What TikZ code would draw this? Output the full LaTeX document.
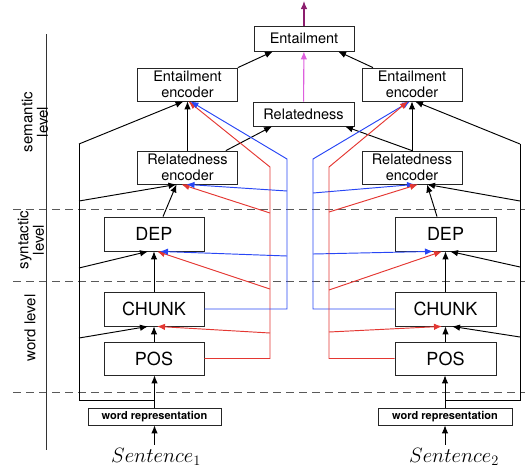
\documentclass[tikz,border=0pt]{standalone}
\usepackage{fontspec}
\setsansfont{TeX Gyre Heros}
\usetikzlibrary{arrows.meta}
\definecolor{redline}{RGB}{228,55,50}
\definecolor{blueline}{RGB}{40,70,245}
\definecolor{pinkline}{RGB}{222,95,222}
\definecolor{purpleline}{RGB}{140,30,110}
\tikzset{
  task/.style={draw=black!85, line width=.8pt, inner sep=0pt, minimum width=100pt, minimum height=34pt, font=\sffamily\fontsize{18}{20}\selectfont},
  enc/.style={draw=black!85, line width=.8pt, inner sep=0pt, minimum width=100pt, minimum height=33pt, align=center, font=\sffamily\fontsize{14.5}{16.5}\selectfont},
  wrep/.style={draw=black!85, line width=.8pt, inner sep=0pt, minimum width=133pt, minimum height=17pt, font=\sffamily\bfseries\fontsize{11}{12}\selectfont},
  lvl/.style={rotate=90, align=center, font=\sffamily\fontsize{15}{15.5}\selectfont},
}
\begin{document}
\begin{tikzpicture}[x=1pt,y=-1pt,>={Latex[length=8pt,width=6.5pt]},line width=.95pt]
\useasboundingbox (0,0) rectangle (525,469);
\foreach \y in {209,281,392}
    \draw[dash pattern=on 8pt off 5pt,black!65] (13,\y) -- (525,\y);
    \draw[black!80] (46,34) -- (46,450);
    \node[lvl] (semL) at (35,122) {semantic\\level};
    \node[lvl] (synL) at (31,240) {syntactic\\level};
    \node[lvl] (wordL) at (30,328) {word level};

    \node[enc,minimum height=25pt] (ent) at (304,38.5) {Entailment};
    \node[enc,minimum height=24pt,minimum width=101pt] (rel) at (303.5,114) {Relatedness};
    \node[enc] (entencL) at (187.5,84.5) {Entailment\\encoder};
    \node[enc] (entencR) at (412,84.5) {Entailment\\encoder};
    \node[enc] (relencL) at (187.5,167.5) {Relatedness\\encoder};
    \node[enc] (relencR) at (412,167.5) {Relatedness\\encoder};
    \node[task] (depL) at (154,234) {DEP};
    \node[task,minimum width=101pt] (depR) at (445.5,234) {DEP};
    \node[task] (chunkL) at (154,309) {CHUNK};
    \node[task,minimum width=101pt] (chunkR) at (445.5,309) {CHUNK};
    \node[task,minimum height=33pt] (posL) at (154,358.5) {POS};
    \node[task,minimum height=33pt,minimum width=101pt] (posR) at (445.5,358.5) {POS};
    \node[wrep] (wrL) at (154.5,416.5) {word representation};
    \node[wrep,minimum width=134pt] (wrR) at (445,416.5) {word representation};
    \node[font=\fontsize{19.5}{21}\selectfont] (senL) at (156,457) {$Sentence_1$};
    \node[font=\fontsize{19.5}{21}\selectfont] (senR) at (454,457) {$Sentence_2$};

\draw[->] (senL.north -| wrL.south) -- (wrL.south);
\draw[->] (senR.north -| wrR.south) -- (wrR.south);
\draw[->] (wrL.north) -- (wrL.north |- posL.south);
\draw[->] (wrR.north) -- (wrR.north |- posR.south);
\draw[->] (posL) -- (chunkL);
\draw[->] (chunkL) -- (depL);
\draw[->] (posR) -- (chunkR);
\draw[->] (chunkR) -- (depR);
\draw[->] ([xshift=9pt]depL.north) -- ([xshift=-11pt]relencL.south);
\draw[->] ([xshift=-8.5pt]depR.north) -- ([xshift=15pt]relencR.south);
\draw[->] (relencL) -- (entencL);
\draw[->] (relencR) -- (entencR);
\draw[->] ([xshift=-12pt]relencL.north east) -- ([xshift=-31.5pt]rel.south);
\draw[->] (relencR.north) -- ([xshift=41.5pt]rel.south);
\draw[->] (entencL.north east) -- ([xshift=-31pt]ent.south);
\draw[->] ([xshift=-39pt]entencR.north) -- ([xshift=34pt]ent.south);
\draw[->,pinkline,line width=1.1pt] (rel) -- (ent);
\draw[->,purpleline,line width=1.1pt] (ent.north) -- (ent.north |- 0,1);

\draw (79,144) -- (79,400) -- (wrL.north |- 0,400);
\foreach \y/\n/\s in {144/entencL/-4,201/relencL/-11,268/depL/-6,338/chunkL/-6}
    \draw[->] (79,\y) -- ([xshift=\s pt]\n.south);
\draw (520,144) -- (520,400) -- (wrR.north |- 0,400);
\foreach \y/\n/\s in {144/entencR/3,201/relencR/15,267/depR/4.5,337/chunkR/6.5}
    \draw[->] (520,\y) -- ([xshift=\s pt]\n.south);

\draw[->,redline] (posL.east) -- (posL.east -| 270,0) -- (270,167) -- ([xshift=1pt]entencL.south);
\foreach \y/\n/\s in {213/relencL/-6,289/depL/3,333/chunkL/3}
    \draw[->,redline] (270,\y) -- ([xshift=\s pt]\n.south);
\draw[->,blueline] (chunkL.east) -- (chunkL.east -| 287,0) -- (287,159) -- ([xshift=3pt]entencL.south);
\foreach \y/\n/\s in {191/relencL/-1,256/depL/6}
    \draw[->,blueline] (287,\y) -- ([xshift=\s pt]\n.south);

\draw[->,blueline] (chunkR.west) -- (chunkR.west -| 313,0) -- (313,159) -- ([xshift=-2pt]entencR.south);
\foreach \y/\n/\s in {193/relencR/3,254/depR/-12.5}
    \draw[->,blueline] (313,\y) -- ([xshift=\s pt]\n.south);
\draw[->,redline] (posR.west) -- (posR.west -| 329,0) -- (329,167) -- ([xshift=-4pt]entencR.south);
\foreach \y/\n/\s in {212/relencR/6,290/depR/-3.5,332/chunkR/-3.5}
    \draw[->,redline] (329,\y) -- ([xshift=\s pt]\n.south);
\end{tikzpicture}
\end{document}
